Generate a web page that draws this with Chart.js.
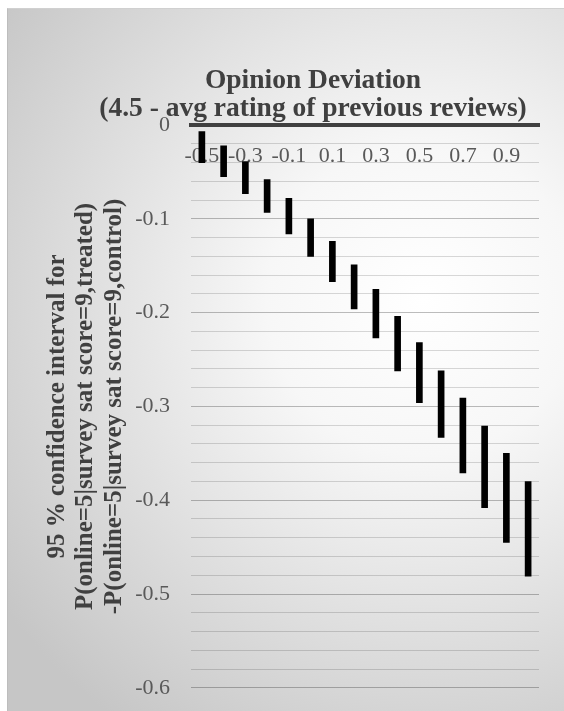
<!DOCTYPE html>
<html>
<head>
<meta charset="utf-8">
<script src="https://cdn.jsdelivr.net/npm/chart.js@4"></script>
<style>
  html, body { margin: 0; padding: 0; background: #fff; overflow: hidden; }
  #box { position: absolute; left: 7px; top: 8px; border-left: 1px solid #bdbdbd; border-top: 1px solid #d0d0d0; }
  canvas { display: block; }
</style>
</head>
<body>
<div id="box"><canvas id="bar-chart" width="610" height="713"></canvas></div>
<script>
// opinion deviation categories (4.5 - avg rating of previous reviews)
var deviation = ['-0.5', '-0.4', '-0.3', '-0.2', '-0.1', '0.0', '0.1', '0.2',
                 '0.3', '0.4', '0.5', '0.6', '0.7', '0.8', '0.9', '1.0'];
// 95% confidence interval, upper and lower end
var ci_upper = [-0.007, -0.022, -0.039, -0.058, -0.078, -0.100, -0.124, -0.149,
                -0.175, -0.204, -0.232, -0.262, -0.291, -0.321, -0.350, -0.380];
var ci_lower = [-0.040, -0.055, -0.073, -0.093, -0.116, -0.140, -0.167, -0.196,
                -0.227, -0.262, -0.296, -0.333, -0.371, -0.408, -0.445, -0.481];

var ranges = deviation.map(function (d, i) { return [ci_lower[i], ci_upper[i]]; });

var isMajor = function (v) { return Math.abs(Math.round(v * 100)) % 10 === 0; };

var background = {
  id: 'background',
  beforeDraw: function (chart) {
    var ctx = chart.ctx;
    var g = ctx.createRadialGradient(415, 290, 0, 415, 290, 520);
    g.addColorStop(0, '#ffffff');
    g.addColorStop(0.3, '#f7f7f7');
    g.addColorStop(1, '#c6c6c6');
    ctx.save();
    ctx.fillStyle = g;
    ctx.fillRect(0, 0, chart.width, chart.height);
    ctx.restore();
  }
};

new Chart(document.getElementById('bar-chart'), {
  type: 'bar',
  data: {
    labels: deviation,
    datasets: [{
      data: ranges,
      backgroundColor: '#000000',
      borderWidth: 0,
      barThickness: 6
    }]
  },
  options: {
    responsive: false,
    animation: false,
    devicePixelRatio: 1,
    layout: { padding: { left: 0, right: 0, top: 0, bottom: 13 } },
    plugins: {
      legend: { display: false },
      tooltip: { enabled: false },
      title: {
        display: true,
        text: ['Opinion Deviation', '(4.5 - avg rating of previous reviews)'],
        color: '#404040',
        font: { family: 'Liberation Serif', size: 27.5, weight: 'bold', lineHeight: 1.02 },
        padding: { top: 58, bottom: 2 }
      }
    },
    scales: {
      x: {
        position: { y: 0 },
        grid: { display: true, color: 'rgba(0,0,0,0)', drawTicks: false },
        border: { display: true, color: '#404040', width: 4 },
        ticks: {
          autoSkip: false,
          minRotation: 0,
          maxRotation: 0,
          padding: 18,
          color: '#595959',
          font: { family: 'Liberation Serif', size: 22 },
          callback: function (v, i) { return i % 2 === 0 ? deviation[i] : ''; }
        }
      },
      y: {
        min: -0.6,
        max: 0,
        afterFit: function (s) { s.width = 183; },
        border: { display: false },
        grid: {
          drawTicks: false,
          color: function (c) { return isMajor(c.tick.value) ? 'rgba(0,0,0,0.26)' : 'rgba(0,0,0,0.15)'; }
        },
        ticks: {
          stepSize: 0.02,
          autoSkip: false,
          padding: 21,
          color: '#595959',
          font: { family: 'Liberation Serif', size: 22 },
          callback: function (v) {
            if (!isMajor(v)) return '';
            return Math.abs(v) < 1e-9 ? '0' : v.toFixed(1);
          }
        },
        title: {
          display: true,
          text: ['95 % confidence interval for',
                 'P(online=5|survey sat score=9,treated)',
                 '-P(online=5|survey sat score=9,control)'],
          color: '#404040',
          font: { family: 'Liberation Serif', size: 25, weight: 'bold', lineHeight: 1.14 },
          padding: { top: 35, bottom: 0 }
        }
      },
      // empty right-hand axis, only keeps the plot area clear of the right edge
      yRight: {
        type: 'linear',
        position: 'right',
        min: -0.6,
        max: 0,
        afterFit: function (s) { s.width = 79; },
        border: { display: false },
        grid: { display: false, drawTicks: false },
        ticks: { display: false }
      }
    }
  },
  plugins: [background]
});
</script>
</body>
</html>
